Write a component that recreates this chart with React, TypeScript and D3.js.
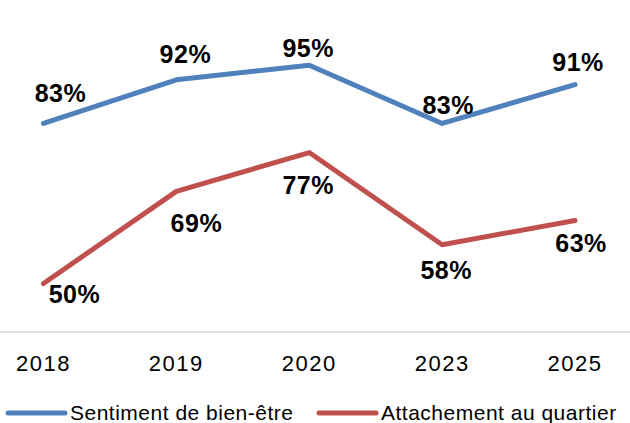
import React from "react";
import * as d3 from "d3";

// Survey years and the two indicators (percent)
const years = ["2018", "2019", "2020", "2023", "2025"];
const bienEtre = [83, 92, 95, 83, 91];
const attachement = [50, 69, 77, 58, 63];
const seriesNames = ["Sentiment de bien-être", "Attachement au quartier"];

// Hand-placed label nudges (px) relative to each point
const bienEtreLabelOffsets: [number, number][] = [
  [17, -21], [9, -17], [-1, -8], [6, -9], [3, -14],
];
const attachementLabelOffsets: [number, number][] = [
  [31, 19], [20, 41], [-1, 41], [4, 34], [6, 32],
];

const W = 630;
const H = 423;
const COLORS = ["#4F81BD", "#C0504D"];

export default function App() {
  const x = d3.scaleBand<string>().domain(years).range([-23, 641.5]);
  const cx = (d: string) => (x(d) ?? 0) + x.bandwidth() / 2;
  const y = d3.scaleLinear().domain([40, 100]).range([332, 41]);

  const line = d3
    .line<number>()
    .x((_, i) => cx(years[i]))
    .y((v) => y(v));

  const series = [
    { name: seriesNames[0], values: bienEtre, offsets: bienEtreLabelOffsets, color: COLORS[0] },
    { name: seriesNames[1], values: attachement, offsets: attachementLabelOffsets, color: COLORS[1] },
  ];

  const font = "'Liberation Sans', Arial, sans-serif";

  return (
    <svg
      width={W}
      height={H}
      viewBox={`0 0 ${W} ${H}`}
      style={{ position: "absolute", left: 0, top: 0, background: "#fff" }}
      fontFamily={font}
    >
      {/* category axis line */}
      <line x1={0} x2={W} y1={y(40)} y2={y(40)} stroke="#D9D9D9" strokeWidth={1.5} />

      {series.map((s) => (
        <path
          key={s.name}
          d={line(s.values) ?? ""}
          fill="none"
          stroke={s.color}
          strokeWidth={5}
          strokeLinejoin="round"
          strokeLinecap="round"
        />
      ))}

      {series.map((s) =>
        s.values.map((v, i) => (
          <text
            key={s.name + i}
            x={cx(years[i]) + s.offsets[i][0]}
            y={y(v) + s.offsets[i][1]}
            textAnchor="middle"
            fontSize={25}
            fontWeight="bold"
            letterSpacing={0.5}
            fill="#000"
          >
            {v}%
          </text>
        ))
      )}

      {years.map((yr) => (
        <text
          key={yr}
          x={cx(yr)}
          y={371}
          textAnchor="middle"
          fontSize={22}
          letterSpacing={1.5}
          fill="#000"
        >
          {yr}
        </text>
      ))}

      {/* legend */}
      {series.map((s, i) => {
        const lx = i === 0 ? 8 : 319;
        return (
          <g key={s.name}>
            <line
              x1={lx}
              x2={lx + 57}
              y1={413}
              y2={413}
              stroke={s.color}
              strokeWidth={5}
              strokeLinecap="round"
            />
            <text x={lx + 62} y={420} fontSize={21} letterSpacing={0.5} fill="#000">
              {s.name}
            </text>
          </g>
        );
      })}
    </svg>
  );
}
